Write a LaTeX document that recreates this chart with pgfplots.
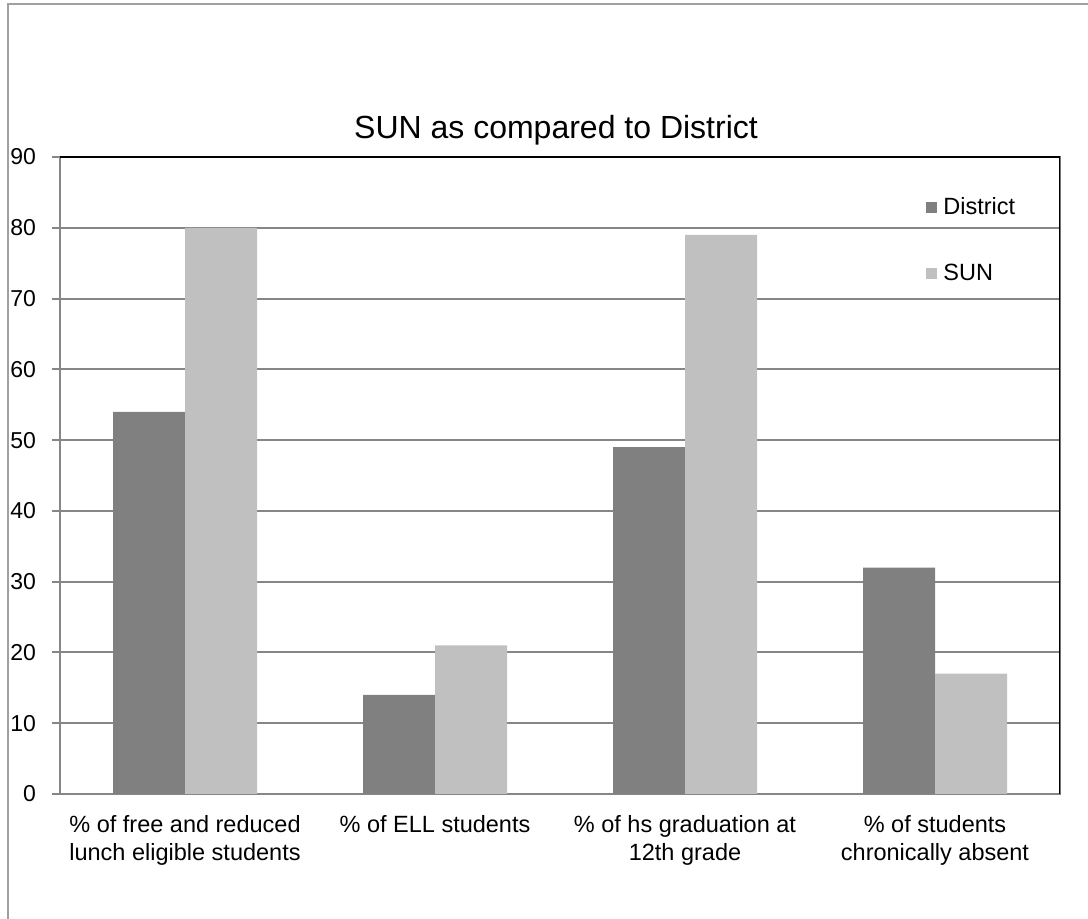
\documentclass[border=0pt]{standalone}
\usepackage{fontspec}
\setmainfont{Liberation Sans}
\usepackage{pgfplots}
\pgfplotsset{compat=1.18}
\definecolor{districtc}{HTML}{808080}
\definecolor{sunc}{HTML}{C0C0C0}
\definecolor{gridc}{HTML}{868686}
\definecolor{framec}{HTML}{A0A0A0}
\begin{document}
\begin{tikzpicture}
\useasboundingbox (0pt,0pt) rectangle (544pt,459.5pt);
\draw[framec, line width=1pt] (4pt,0pt) -- (4pt,457.5pt) -- (544pt,457.5pt);
\node[font=\fontsize{16}{19}\selectfont] at (278pt,394.5pt) {SUN as compared to District};
\begin{axis}[
  at={(30pt,62.5pt)}, anchor=south west,
  scale only axis, width=500pt, height=318.5pt,
  xmin=-0.5, xmax=3.5, ymin=0, ymax=90,
  ybar=0pt, bar width=0.288,
  xtick={0,1,2,3},
  xticklabels={{\% of free and reduced\\lunch eligible students},{\% of ELL students},{\% of hs graduation at\\12th grade},{\% of students\\chronically absent}},
  major x tick style={draw=none},
  extra x ticks={-0.5,0.5,1.5,2.5,3.5},
  extra x tick labels={},
  extra x tick style={major tick length=4pt, tick style={gridc, line width=1pt, draw=gridc}},
  ytick={0,10,...,90},
  ymajorgrids, grid style={gridc, line width=1pt},
  tick align=outside, major tick length=4pt,
  tick style={gridc, line width=1pt},
  xtick pos=bottom, ytick pos=left,
  axis line style={gridc, line width=1pt},
  /pgf/number format/assume math mode=true,
  yticklabel style={font=\fontsize{11.5}{13}\selectfont, text=black, xshift=-4.5pt},
  xticklabel style={font=\fontsize{11.75}{14}\selectfont, align=center, text=black, yshift=-3pt},
  legend style={draw=none, fill=none, at={(rel axis cs:0.866,0.943)}, anchor=north west,
    font=\fontsize{11.75}{14}\selectfont, row sep=19pt, inner sep=0pt, nodes={inner xsep=3pt}},
  legend cell align=left,
  legend image code/.code={\fill[#1] (0pt,-2.75pt) rectangle (5.5pt,2.75pt);},
]
\addplot[fill=districtc, draw=none] coordinates {(0,54) (1,14) (2,49) (3,32)};
\addplot[fill=sunc, draw=none] coordinates {(0,80) (1,21) (2,79) (3,17)};
\legend{District, SUN}
\draw[black, line width=1pt] (rel axis cs:0,1) -- (rel axis cs:1,1) -- (rel axis cs:1,0);
\end{axis}
\end{tikzpicture}
\end{document}
